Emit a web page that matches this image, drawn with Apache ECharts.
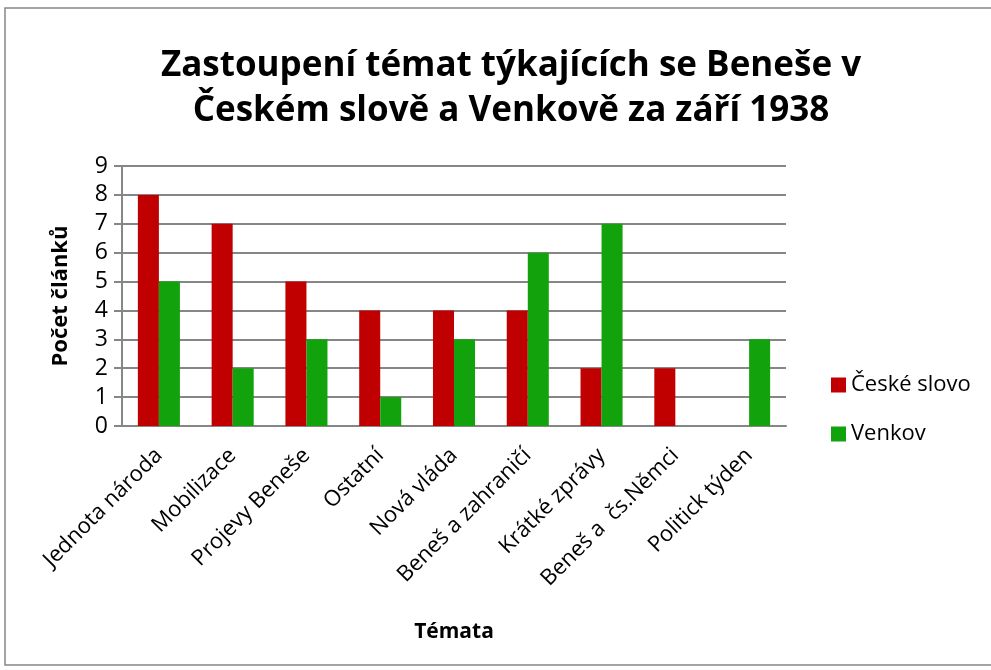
<!DOCTYPE html>
<html>
<head>
<meta charset="utf-8">
<script src="https://cdn.jsdelivr.net/npm/echarts@6/dist/echarts.min.js"></script>
<style>
  html, body { margin: 0; padding: 0; background: #fff; }
  #chart { width: 991px; height: 670px; }
</style>
</head>
<body>
<div id="chart"></div>
<script>
const categories = ['Jednota národa', 'Mobilizace', 'Projevy Beneše', 'Ostatní', 'Nová vláda',
  'Beneš a zahraničí', 'Krátké zprávy', 'Beneš a  čs.Němci', 'Politick týden']
const ceskeSlovo = [8, 7, 5, 4, 4, 4, 2, 2, 0]
const venkov = [5, 2, 3, 1, 3, 6, 7, 0, 3]
const seriesNames = ['České slovo', 'Venkov']

const font = '"Open Sans", "Noto Sans", sans-serif'
const chart = echarts.init(document.getElementById('chart'))

const option = {
  color: ['#c00000', '#12a20c'],
  textStyle: { fontFamily: font },
  title: {
    text: 'Zastoupení témat týkajících se Beneše v\nČeském slově a Venkově za září 1938',
    left: 506,
    top: 39,
    textAlign: 'center',
    textStyle: { fontFamily: font, fontSize: 35, fontWeight: 'bold', color: '#000', lineHeight: 45 }
  },
  graphic: [{
    type: 'rect',
    shape: { x: 5, y: 8, width: 990, height: 657 },
    style: { fill: 'none', stroke: '#868686', lineWidth: 1.5 },
    silent: true
  }],
  legend: {
    orient: 'vertical',
    left: 826,
    top: 369,
    itemWidth: 15,
    itemHeight: 15,
    itemGap: 27,
    icon: 'rect',
    textStyle: { fontFamily: font, fontSize: 22, color: '#000' },
    data: seriesNames
  },
  grid: { left: 122, right: 205, top: 166, bottom: 244 },
  xAxis: {
    type: 'category',
    data: categories,
    name: 'Témata',
    nameLocation: 'middle',
    nameGap: 196,
    nameTextStyle: { fontFamily: font, fontSize: 21, fontWeight: 'bold', color: '#000' },
    axisLine: { lineStyle: { color: '#868686', width: 2 } },
    axisTick: { show: false },
    axisLabel: { rotate: 45, fontSize: 22, color: '#000', margin: 26, interval: 0 }
  },
  yAxis: {
    type: 'value',
    min: 0,
    max: 9,
    interval: 1,
    name: 'Počet článků',
    nameLocation: 'middle',
    nameGap: 50,
    nameTextStyle: { fontFamily: font, fontSize: 22, fontWeight: 'bold', color: '#000' },
    axisLine: { show: true, lineStyle: { color: '#868686', width: 2 } },
    axisTick: { show: true, length: 8, lineStyle: { color: '#868686', width: 2 } },
    axisLabel: { fontSize: 23, color: '#000', margin: 14 },
    splitLine: { lineStyle: { color: '#868686', width: 2 } }
  },
  series: [
    { name: seriesNames[0], type: 'bar', data: ceskeSlovo, barGap: '0%', barCategoryGap: '43%' },
    { name: seriesNames[1], type: 'bar', data: venkov, barGap: '0%', barCategoryGap: '43%' }
  ]
}
chart.setOption(option)
</script>
</body>
</html>
